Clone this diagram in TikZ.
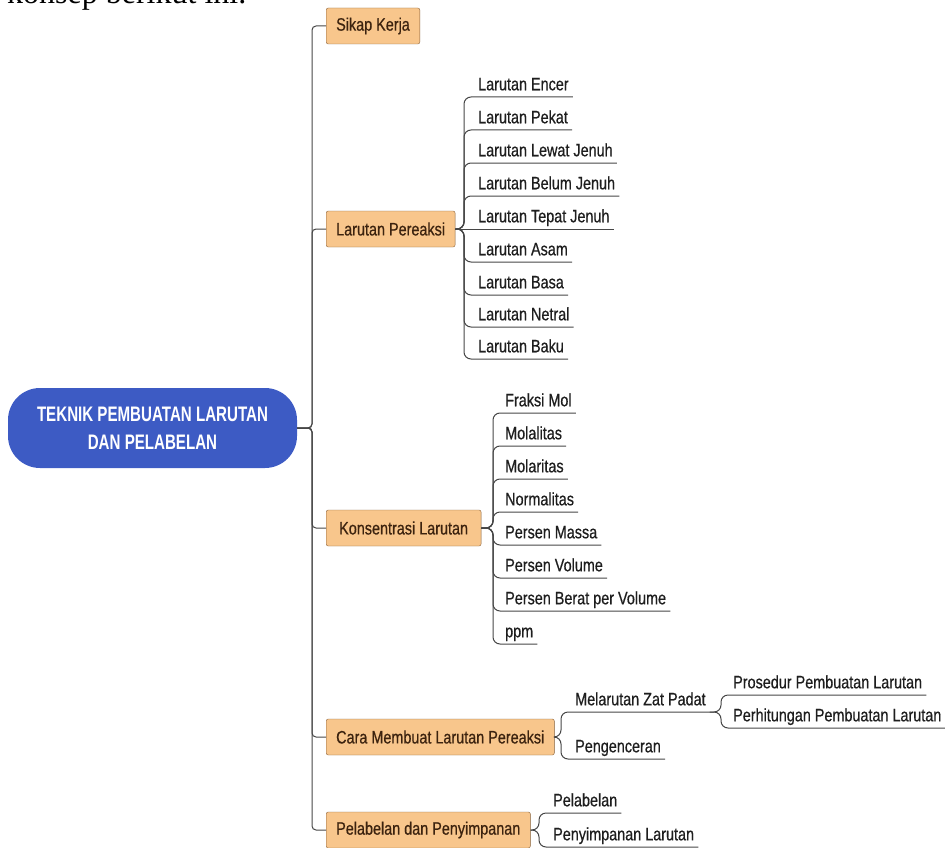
\documentclass[tikz,border=0pt]{standalone}
\usepackage{fontspec}
\usepackage{tikz}
\newfontfamily\mapfont[FakeStretch=0.8,FakeBold=0.6]{Liberation Sans}
\newfontfamily\rootfont[FakeStretch=0.72]{Liberation Sans}
\newfontfamily\notefont{Liberation Serif}

\definecolor{rootblue}{RGB}{61,91,196}
\definecolor{topicfill}{RGB}{248,198,140}
\definecolor{topicline}{RGB}{135,95,55}
\definecolor{topictext}{RGB}{60,35,15}
\definecolor{leaftext}{RGB}{30,30,30}
\definecolor{branchgray}{RGB}{70,70,70}

\tikzset{
    root/.style={fill=rootblue, text=white, rounded corners=32pt, minimum width=289pt,
        minimum height=80pt, align=center, font=\rootfont\bfseries\fontsize{21}{28}\selectfont},
    topic/.style={draw=topicline, fill=topicfill, rounded corners=2pt, anchor=west,
        minimum height=36pt, inner xsep=10pt, text=topictext, font=\mapfont\fontsize{18}{21}\selectfont},
    leaf/.style={anchor=south west, inner xsep=4pt, inner ysep=2.5pt, text depth=4pt,
        text=leaftext, font=\mapfont\fontsize{18}{21}\selectfont},
    trunk/.style={draw=branchgray, line width=1pt, rounded corners=4pt},
    branch/.style={draw=branchgray, line width=1pt, rounded corners=7pt}
}

\begin{document}
\begin{tikzpicture}[x=1pt,y=-1pt]
        \clip (0,0) rectangle (945,848);

        \node[anchor=base west, inner sep=0pt, font=\notefont\fontsize{32}{36}\selectfont] (intro) at (7,3.5) {konsep berikut ini.};

        \node[root] (root) at (152.5,428) {TEKNIK PEMBUATAN LARUTAN\\DAN PELABELAN};

        \node[topic] (sikap) at (326,26) {Sikap Kerja};
        \node[topic] (pereaksi) at (326,229) {Larutan Pereaksi};
        \node[topic, inner xsep=13pt] (konsentrasi) at (326,528) {Konsentrasi Larutan};
        \node[topic] (cara) at (326,737) {Cara Membuat Larutan Pereaksi};
        \node[topic] (simpan) at (326,830) {Pelabelan dan Penyimpanan};

        % Larutan Pereaksi
        \node[leaf] (encer) at (474,97) {Larutan Encer};
        \node[leaf] (pekat) at (474,130) {Larutan Pekat};
        \node[leaf] (lewat) at (474,163) {Larutan Lewat Jenuh};
        \node[leaf] (belum) at (474,196) {Larutan Belum Jenuh};
        \node[leaf] (tepat) at (474,229) {Larutan Tepat Jenuh};
        \node[leaf] (asam) at (474,262) {Larutan Asam};
        \node[leaf] (basa) at (474,295) {Larutan Basa};
        \node[leaf] (netral) at (474,327) {Larutan Netral};
        \node[leaf] (baku) at (474,359) {Larutan Baku};

        % Konsentrasi Larutan
        \node[leaf] (fraksi) at (501,413) {Fraksi Mol};
        \node[leaf] (molalitas) at (501,446) {Molalitas};
        \node[leaf] (molaritas) at (501,479) {Molaritas};
        \node[leaf] (normalitas) at (501,512) {Normalitas};
        \node[leaf] (massa) at (501,545) {Persen Massa};
        \node[leaf] (volume) at (501,578) {Persen Volume};
        \node[leaf] (berat) at (501,611) {Persen Berat per Volume};
        \node[leaf] (ppm) at (501,644) {ppm};

        % Cara Membuat Larutan Pereaksi
        \node[leaf] (padat) at (571,712) {Melarutan Zat Padat};
        \node[leaf] (encerkan) at (571,759) {Pengenceran};
        \node[leaf] (prosedur) at (729,695) {Prosedur Pembuatan Larutan};
        \node[leaf] (hitung) at (729,728) {Perhitungan Pembuatan Larutan};

        % Pelabelan dan Penyimpanan
        \node[leaf] (pelabelan) at (549,813) {Pelabelan};
        \node[leaf] (penyimpanan) at (549,847) {Penyimpanan Larutan};

        \draw[trunk] (root.east) -| ([xshift=-14pt]sikap.west) -- (sikap.west);
        \draw[trunk] (root.east) -| ([xshift=-14pt]pereaksi.west) -- (pereaksi.west);
        \draw[trunk] (root.east) -| ([xshift=-14pt]konsentrasi.west) -- (konsentrasi.west);
        \draw[trunk] (root.east) -| ([xshift=-14pt]cara.west) -- (cara.west);
        \draw[trunk] (root.east) -| ([xshift=-14pt]simpan.west) -- (simpan.west);

        \draw[branch] (pereaksi.east) -| ([xshift=-10pt]encer.south west) -- (encer.south east);
        \draw[branch] (pereaksi.east) -| ([xshift=-10pt]pekat.south west) -- (pekat.south east);
        \draw[branch] (pereaksi.east) -| ([xshift=-10pt]lewat.south west) -- (lewat.south east);
        \draw[branch] (pereaksi.east) -| ([xshift=-10pt]belum.south west) -- (belum.south east);
        \draw[branch] (pereaksi.east) -- (tepat.south east);
        \draw[branch] (pereaksi.east) -| ([xshift=-10pt]asam.south west) -- (asam.south east);
        \draw[branch] (pereaksi.east) -| ([xshift=-10pt]basa.south west) -- (basa.south east);
        \draw[branch] (pereaksi.east) -| ([xshift=-10pt]netral.south west) -- (netral.south east);
        \draw[branch] (pereaksi.east) -| ([xshift=-10pt]baku.south west) -- (baku.south east);

        \draw[branch] (konsentrasi.east) -| ([xshift=-8pt]fraksi.south west) -- (fraksi.south east);
        \draw[branch] (konsentrasi.east) -| ([xshift=-8pt]molalitas.south west) -- (molalitas.south east);
        \draw[branch] (konsentrasi.east) -| ([xshift=-8pt]molaritas.south west) -- (molaritas.south east);
        \draw[branch] (konsentrasi.east) -| ([xshift=-8pt]normalitas.south west) -- (normalitas.south east);
        \draw[branch] (konsentrasi.east) -| ([xshift=-8pt]massa.south west) -- (massa.south east);
        \draw[branch] (konsentrasi.east) -| ([xshift=-8pt]volume.south west) -- (volume.south east);
        \draw[branch] (konsentrasi.east) -| ([xshift=-8pt]berat.south west) -- (berat.south east);
        \draw[branch] (konsentrasi.east) -| ([xshift=-8pt]ppm.south west) -- (ppm.south east);

        \draw[branch] (cara.east) -| ([xshift=-10pt]padat.south west) -- (padat.south east);
        \draw[branch] (cara.east) -| ([xshift=-10pt]encerkan.south west) -- (encerkan.south east);
        \draw[branch] (padat.south east) -| ([xshift=-8pt]prosedur.south west) -- (prosedur.south east);
        \draw[branch] (padat.south east) -| ([xshift=-8pt]hitung.south west) -- (hitung.south east);

        \draw[branch] (simpan.east) -| ([xshift=-10pt]pelabelan.south west) -- (pelabelan.south east);
        \draw[branch] (simpan.east) -| ([xshift=-10pt]penyimpanan.south west) -- (penyimpanan.south east);
\end{tikzpicture}
\end{document}
